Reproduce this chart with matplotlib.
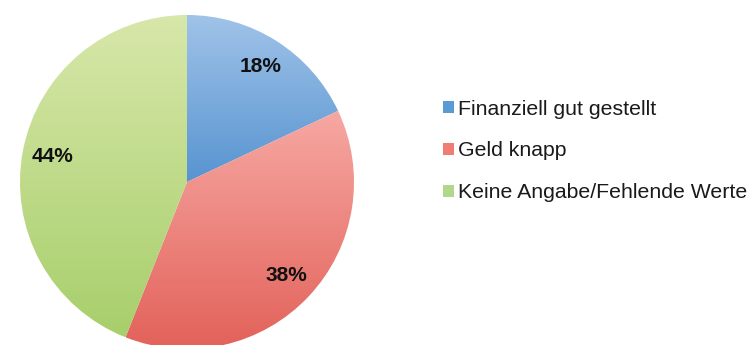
import matplotlib
matplotlib.use('Agg')
import matplotlib.pyplot as plt
import matplotlib.patches as mpatches
import numpy as np
from matplotlib.colors import LinearSegmentedColormap

plt.rcParams['font.family'] = ['Liberation Sans', 'DejaVu Sans']

labels = ['Finanziell gut gestellt', 'Geld knapp', 'Keine Angabe/Fehlende Werte']
shares = [18, 38, 44]

# (top colour, bottom colour) of each slice's vertical gradient
grad_colors = [('#a0c3e8', '#5794d1'),
               ('#f7a8a3', '#e2625a'),
               ('#d8e7aa', '#a7cf6b')]
legend_colors = ['#5b9bd5', '#ed7d75', '#b3d78a']

W, H = 751, 345
fig = plt.figure(figsize=(W / 100, H / 100), dpi=100)
fig.patch.set_facecolor('white')

# pie centre and radius in pixels
cx, cy, R = 187, 345 - 182, 167
ax = fig.add_axes([(cx - R) / W, (cy - R) / H, 2 * R / W, 2 * R / H])
ax.set_xlim(-1, 1)
ax.set_ylim(-1, 1)
ax.set_aspect('equal')
ax.axis('off')

wedges, _, autotexts = ax.pie(shares, startangle=90, counterclock=False,
                              radius=1, autopct='%d%%', pctdistance=0.82,
                              wedgeprops=dict(linewidth=0),
                              textprops=dict(fontsize=15, fontweight='bold',
                                             color='#111111'))

# fill each wedge with a vertical gradient clipped to its shape
for w, (top, bot) in zip(wedges, grad_colors):
    w.set_facecolor('none')
    ext = w.get_path().get_extents()
    cmap = LinearSegmentedColormap.from_list('g', [bot, top])
    grad = np.linspace(0, 1, 256).reshape(-1, 1)
    im = ax.imshow(grad, cmap=cmap, origin='lower', aspect='auto',
                   extent=[ext.x0, ext.x1, ext.y0, ext.y1], zorder=1,
                   interpolation='bilinear')
    im.set_clip_path(w)
for t in autotexts:
    t.set_zorder(5)
ax.set_xlim(-1, 1)
ax.set_ylim(-1, 1)

handles = [mpatches.Patch(facecolor=c, edgecolor='none', label=l)
           for c, l in zip(legend_colors, labels)]
fig.legend(handles=handles, loc='center left',
           bbox_to_anchor=(443 / W, 1 - 151 / H), frameon=False,
           borderpad=0, borderaxespad=0,
           fontsize=15.3, handlelength=0.5, handleheight=0.5,
           handletextpad=0.2, labelspacing=1.07, labelcolor='#1a1a1a')

fig.savefig('out.png', dpi=100)
